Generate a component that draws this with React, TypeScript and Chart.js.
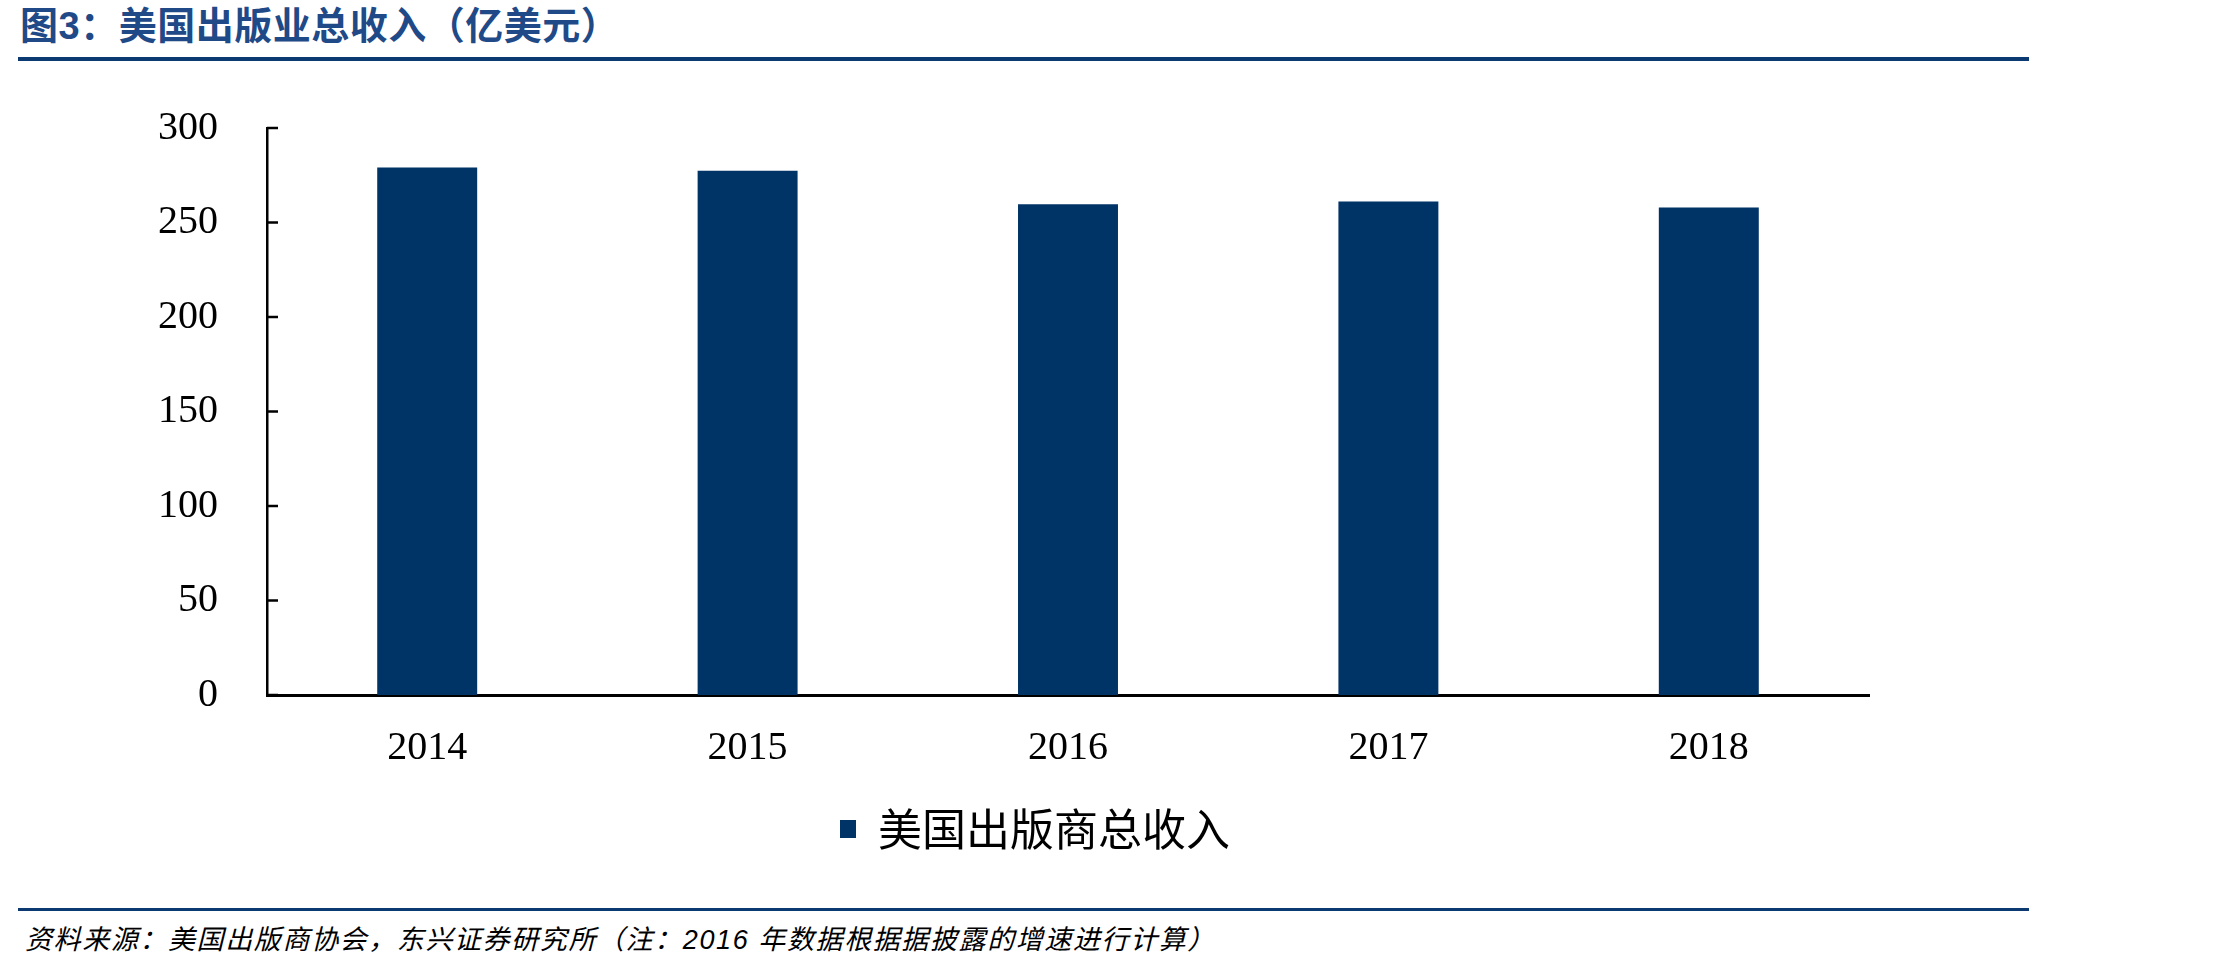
import { useEffect, useRef } from "react";
import { Chart, registerables } from "chart.js";

Chart.register(...registerables);

const years = ["2014", "2015", "2016", "2017", "2018"];
const revenue = [279.1, 277.4, 259.7, 261.1, 258.0];
const seriesName = "美国出版商总收入";
const yMin = 0;
const yMax = 300;
const yStep = 50;

const titleText = "图3：美国出版业总收入（亿美元）";
const sourceText = "资料来源：美国出版商协会，东兴证券研究所（注：2016 年数据根据据披露的增速进行计算）";

const barColor = "#003366";
const ruleColor = "#0B3A72";
const serif = '"Liberation Serif", "Times New Roman", serif';
const cjk = '"Liberation Sans", "Noto Sans CJK SC", sans-serif';

// ticks on the y axis point into the plot, as in the source chart
const innerTicks = {
  id: "innerTicks",
  afterDraw(chart: any) {
    const y = chart.scales.y;
    const ctx = chart.ctx;
    ctx.save();
    ctx.strokeStyle = "#000";
    ctx.lineWidth = 2.5;
    y.ticks.forEach((t: any) => {
      const py = y.getPixelForValue(t.value);
      ctx.beginPath();
      ctx.moveTo(y.right, py);
      ctx.lineTo(y.right + 11, py);
      ctx.stroke();
    });
    ctx.restore();
  },
};

function RevenueChart() {
  const canvasRef = useRef<HTMLCanvasElement | null>(null);
  const chartRef = useRef<Chart<any> | null>(null);

  useEffect(() => {
    if (!canvasRef.current) return;
    if (chartRef.current) chartRef.current.destroy();

    chartRef.current = new Chart(canvasRef.current, {
      type: "bar",
      data: {
        labels: years,
        datasets: [
          {
            label: seriesName,
            data: revenue,
            backgroundColor: barColor,
            borderWidth: 0,
            categoryPercentage: 1,
            barPercentage: 0.312,
          },
        ],
      },
      options: {
        animation: false,
        responsive: true,
        maintainAspectRatio: false,
        layout: { padding: { top: 48, bottom: 39, left: 201, right: 368 } },
        plugins: {
          tooltip: { enabled: false },
          legend: {
            position: "bottom",
            labels: {
              boxWidth: 16,
              boxHeight: 18,
              padding: 6,
              color: "#000",
              font: { family: '"Noto Sans CJK SC", sans-serif', size: 44 },
            },
          },
        },
        scales: {
          x: {
            z: 1,
            grid: { display: false, drawTicks: false },
            border: { display: true, color: "#000", width: 3 },
            ticks: { color: "#000", padding: 29, font: { family: serif, size: 40 } },
          },
          y: {
            z: 1,
            min: yMin,
            max: yMax,
            afterFit: (scale: any) => {
              scale.width = 66;
            },
            grid: { display: false, drawTicks: false },
            border: { display: true, color: "#000", width: 2.5 },
            ticks: {
              stepSize: yStep,
              color: "#000",
              // mirrored + far alignment keeps the labels right-aligned 49px left of the axis
              mirror: true,
              crossAlign: "far",
              padding: -109,
              font: { family: serif, size: 40 },
            },
          },
        },
      },
      plugins: [innerTicks],
    });

    return () => {
      if (chartRef.current) {
        chartRef.current.destroy();
        chartRef.current = null;
      }
    };
  }, []);

  return <canvas ref={canvasRef} />;
}

export default function App() {
  return (
    <div style={{ position: "absolute", left: 0, top: 0, width: 2237, height: 971, background: "#fff" }}>
      <div
        style={{
          position: "absolute",
          left: 20,
          top: 7,
          fontFamily: cjk,
          fontWeight: 700,
          fontSize: 38,
          lineHeight: "38px",
          letterSpacing: "0.5px",
          color: "#1F4A87",
          whiteSpace: "nowrap",
        }}
      >
        {titleText}
      </div>
      <div style={{ position: "absolute", left: 18, top: 57, width: 2011, height: 3.5, background: ruleColor }} />
      <div style={{ position: "absolute", left: 0, top: 80, width: 2237, height: 820 }}>
        <RevenueChart />
      </div>
      <div style={{ position: "absolute", left: 18, top: 908, width: 2011, height: 3, background: ruleColor }} />
      <div
        style={{
          position: "absolute",
          left: 25,
          top: 927,
          fontFamily: cjk,
          fontStyle: "italic",
          fontSize: 27,
          lineHeight: "27px",
          letterSpacing: "1.6px",
          color: "#000",
          whiteSpace: "nowrap",
        }}
      >
        {sourceText}
      </div>
    </div>
  );
}
